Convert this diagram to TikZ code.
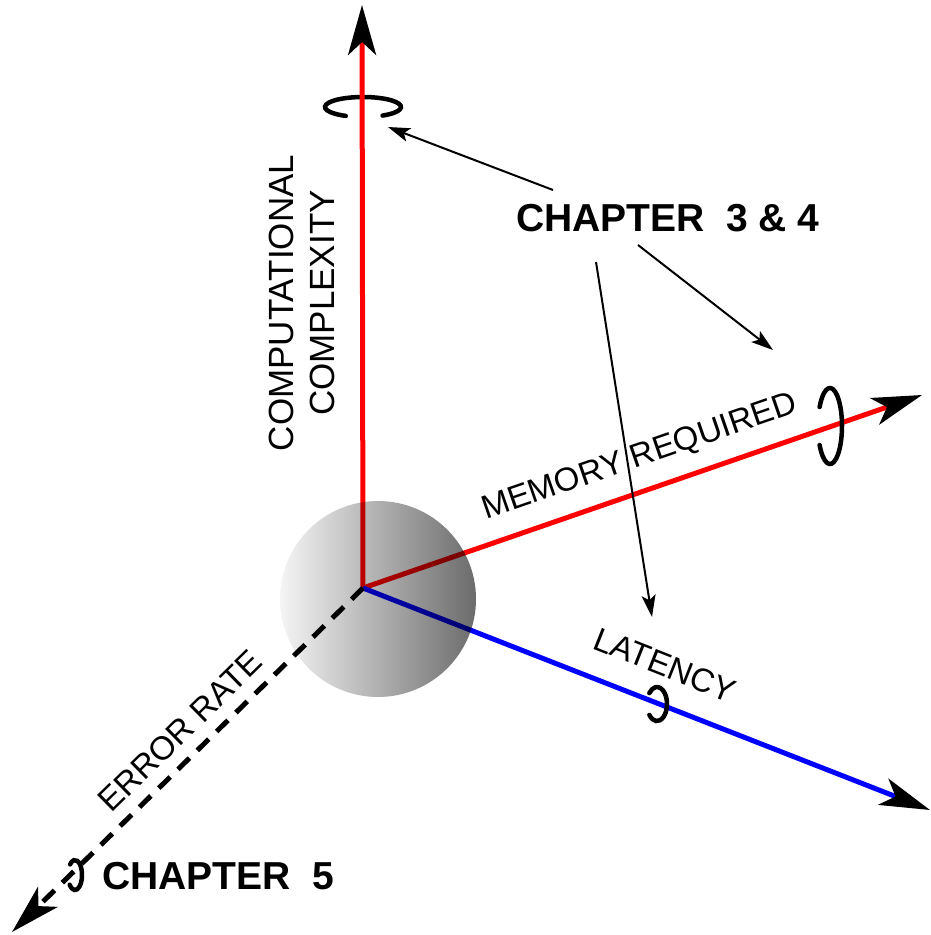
\documentclass[tikz,border=0pt]{standalone}
\usepackage{fontspec}
\setmainfont{Liberation Sans}
\usetikzlibrary{arrows.meta,calc,fadings}
\pgfdeclareradialshading{softedgeshade}{\pgfpointorigin}{color(0bp)=(pgftransparent!0); color(44bp)=(pgftransparent!0); color(50bp)=(pgftransparent!100)}
\pgfdeclarefading{softedge}{\pgfuseshading{softedgeshade}}
\begin{document}
\begin{tikzpicture}[x=1pt,y=1pt,
  axisline/.style={line width=5pt},
  bighead/.style={-{Stealth[length=50pt,width=28pt,inset=13pt,color=black]}},
  ring/.style={line width=4.5pt, line cap=round},
  callout/.style={line width=2pt, -{Stealth[length=22pt,width=14pt,inset=5pt]}},
  axlabel/.style={font=\fontsize{33}{33}\selectfont, inner sep=0pt},
  chap/.style={font=\bfseries\fontsize{39}{39}\selectfont, inner sep=0pt}]
\useasboundingbox (0,0) rectangle (930,-935);

% axis end points
\coordinate (O) at (363,-588);
\coordinate (top) at (362,-5);
\coordinate (mem) at (922,-395);
\coordinate (lat) at (930,-810);
\coordinate (err) at (12,-932);

% ring behind the vertical axis
\coordinate (r1) at (363,-107);
\draw[ring] (r1) ++(-59:38 and 10) arc[start angle=-59, end angle=243, x radius=38, y radius=10];

% axes
\draw[axisline, red, bighead] (O) -- (top);
\draw[axisline, red, bighead] (O) -- (mem);
\draw[axisline, blue, bighead] (O) -- (lat);
\draw[axisline, black, dash pattern=on 16pt off 11pt, bighead] (O) -- (err);

% sphere
\begin{scope}[blend mode=multiply]
  \shade[left color=black!4, right color=black!58, path fading=softedge, fit fading=true] (378,-599) circle[radius=98];
\end{scope}

% other rings
\coordinate (r2) at (830,-426);
\draw[ring] (r2) ++(-150:12 and 38) arc[start angle=-150, end angle=150, x radius=12, y radius=38];
\coordinate (r3) at (657,-704);
\draw[ring] (r3) ++(-140:10 and 17) arc[start angle=-140, end angle=140, x radius=10, y radius=17];
\coordinate (r4) at (75,-875);
\draw[ring] (r4) ++(-140:7 and 15) arc[start angle=-140, end angle=135, x radius=7, y radius=15];

% axis labels
\node[axlabel, rotate=90, align=center, font=\fontsize{35}{41}\selectfont] (cc) at (302,-303) {COMPUTATIONAL\\COMPLEXITY};
\node[axlabel, rotate=19] (memlab) at (640,-458) {MEMORY REQUIRED};
\node[axlabel, rotate=-21.6] (latlab) at (665,-665) {LATENCY};
\node[axlabel, rotate=44.4] (errlab) at (180,-731) {ERROR RATE};

% chapter labels
\node[chap] (ch34) at (668,-218) {CHAPTER\ \ 3 \& 4};
\node[chap] (ch5) at (218,-876) {CHAPTER\ \ 5};

% callouts
\coordinate (c1s) at (553,-190);
\coordinate (c1e) at (388,-127);
\coordinate (c2s) at (638,-245);
\coordinate (c2e) at (773,-350);
\coordinate (c3s) at (596,-262);
\coordinate (c3e) at (652,-617);
\draw[callout] (c1s) -- (c1e);
\draw[callout] (c2s) -- (c2e);
\draw[callout] (c3s) -- (c3e);
\end{tikzpicture}
\end{document}
